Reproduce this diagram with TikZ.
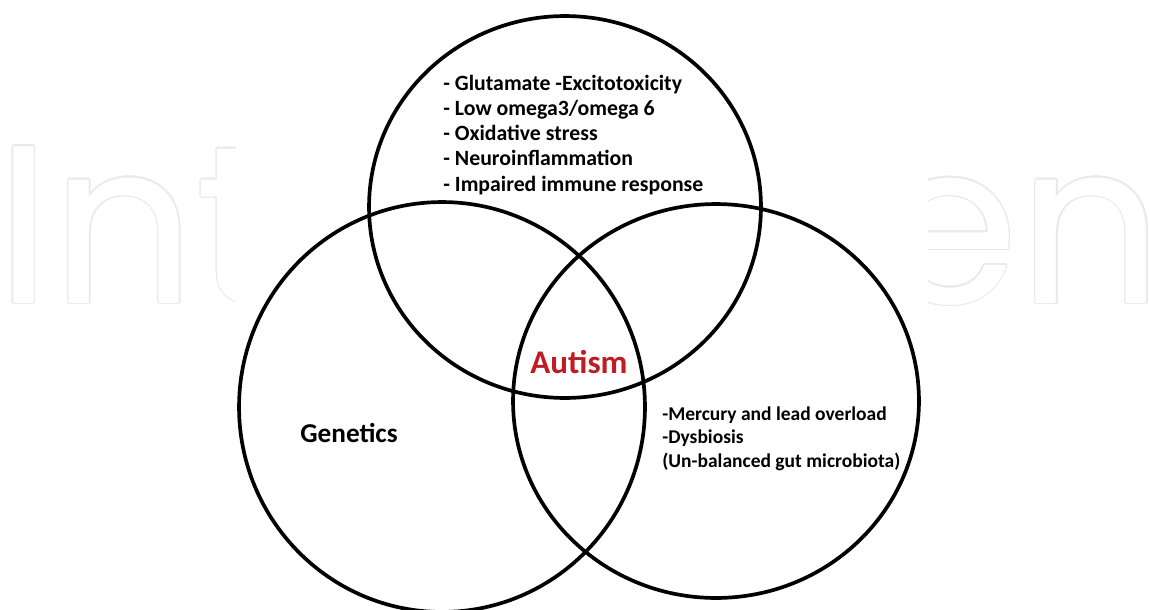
\documentclass[tikz,border=0pt]{standalone}
\usepackage{fontspec}
\setmainfont{Carlito}
\newfontfamily\markfont{Poppins}
\usetikzlibrary{shapes.geometric,calc}

\definecolor{autred}{RGB}{192,28,36}
\definecolor{markgray}{RGB}{234,234,234}

\begin{document}
\begin{tikzpicture}[
        x=0.02cm,
        y=-0.02cm,
        ring/.style={ellipse, draw=black, line width=2.1pt, inner sep=0pt},
        itemtext/.style={font=\bfseries\fontsize{12.4}{14}\selectfont, inner sep=0pt, anchor=base west},
        marktext/.style={font=\markfont\fontsize{128}{128}\selectfont, inner sep=0pt}
    ]
        \useasboundingbox (0,0) rectangle (1150,609);

        % watermark behind the figure
        \foreach \ang in {0,22.5,...,359} {
            \node[marktext, text=markgray, anchor=base west] at ($(-4,303)+(\ang:1.4)$) {Int};
            \node[marktext, text=markgray, anchor=base east] at ($(1163,303)+(\ang:1.4)$) {en};
        }
        \node[marktext, text=white, anchor=base west] (markleft) at (-4,303) {Int};
        \node[marktext, text=white, anchor=base east] (markright) at (1163,303) {en};
        \fill[white] (236,0) rectangle (928,609);

        % three overlapping circles (sizes in cm: 1px = 0.02cm)
        \node[ring, minimum width=7.84cm, minimum height=7.64cm] (brain) at (565,207) {};
        \node[ring, minimum width=8.12cm, minimum height=8.2cm] (genes) at (442,407) {};
        \node[ring, minimum width=8.12cm, minimum height=7.88cm] (gut) at (716,401) {};

        % top circle: brain related causes
        \foreach \txt [count=\i] in {{- Glutamate -Excitotoxicity},
                {- Low omega3/omega 6},
                {- Oxidative stress},
                {- Neuroinflammation},
                {- Impaired immune response}} {
            \node[itemtext] (cause\i) at (443, {90+25.3*(\i-1)}) {\txt};
        }

        % right circle: environment and gut
        \foreach \txt [count=\i] in {{-Mercury and lead overload},
                {-Dysbiosis},
                {(Un-balanced gut microbiota)}} {
            \node[itemtext, font=\bfseries\fontsize{11.1}{13}\selectfont] (env\i) at (662, {420+23.5*(\i-1)}) {\txt};
        }

        % left circle
        \node[font=\bfseries\fontsize{15.5}{17}\selectfont, inner sep=0pt, anchor=base west] (genetics) at (300,442) {Genetics};

        % centre
        \node[font=\bfseries\fontsize{18.8}{22}\selectfont, text=autred, inner sep=0pt, anchor=base] (autism) at (579,373) {Autism};
    \end{tikzpicture}
\end{document}
